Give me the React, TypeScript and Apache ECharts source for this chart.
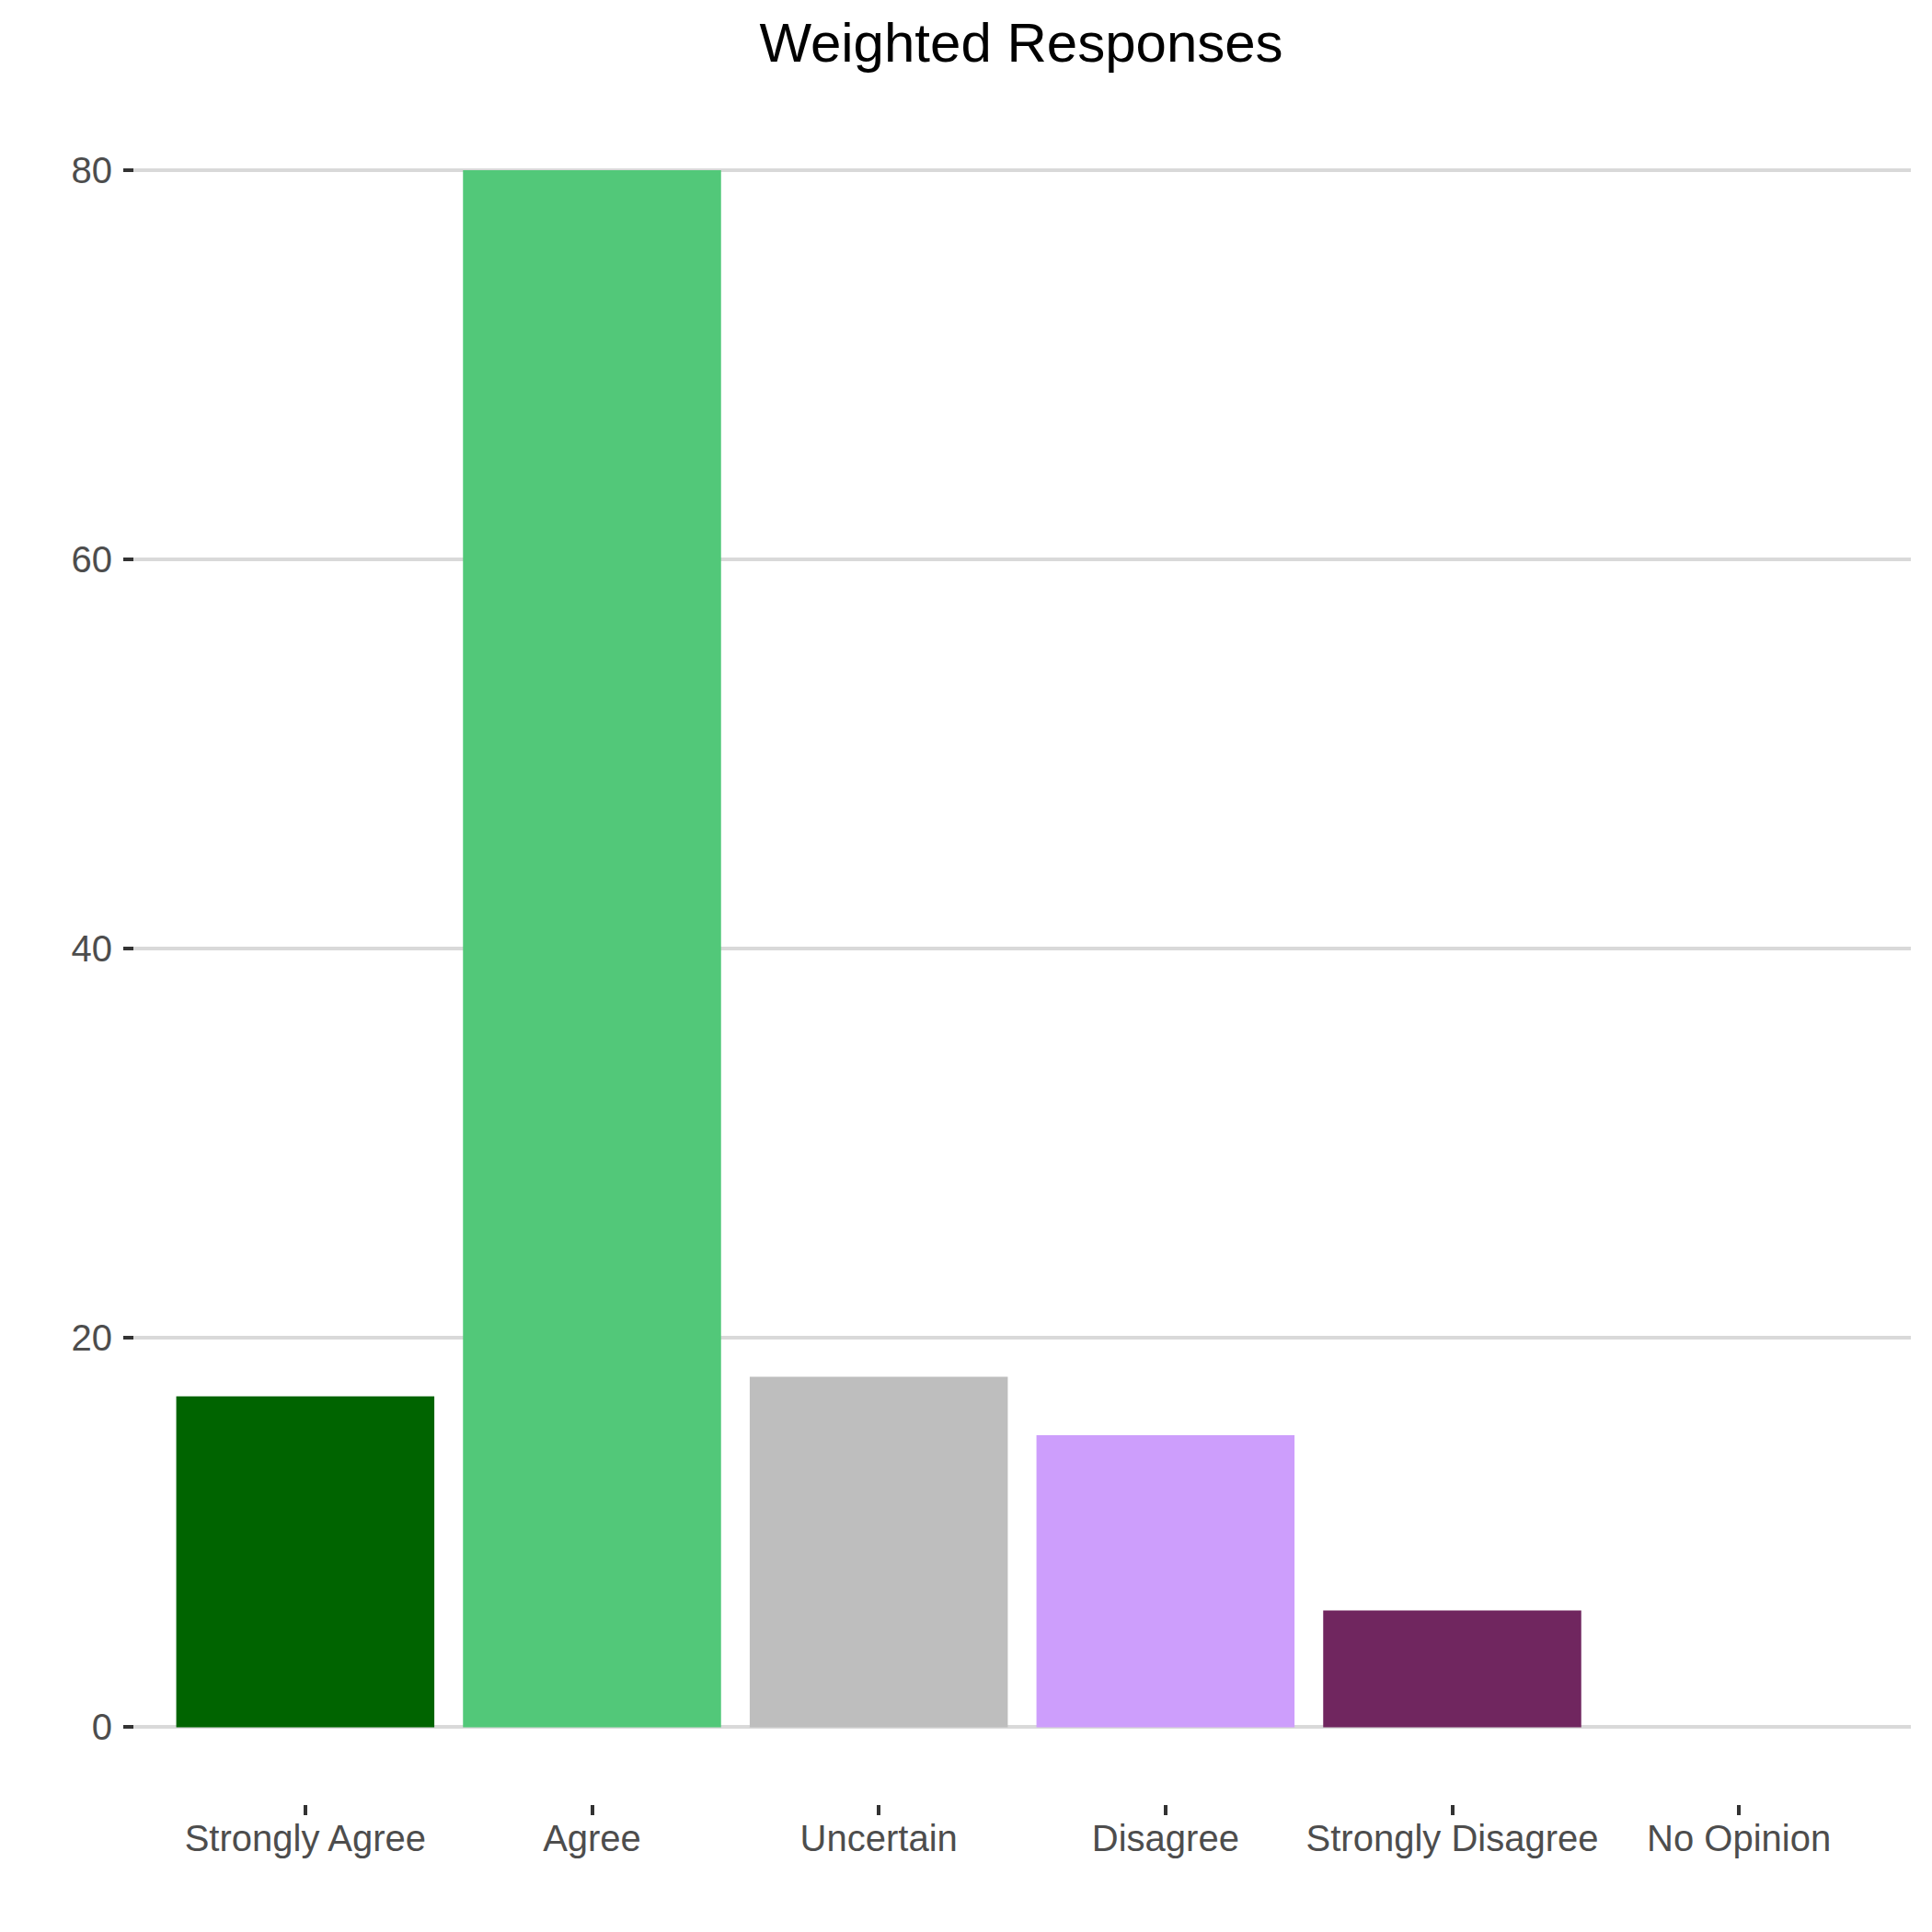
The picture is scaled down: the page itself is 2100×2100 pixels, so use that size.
import React, { useEffect, useRef } from "react";
import * as echarts from "echarts";

const categories = ["Strongly Agree", "Agree", "Uncertain", "Disagree", "Strongly Disagree", "No Opinion"];
const values = [17, 80, 18, 15, 6, 0];
const barColors = ["#006400", "#52C879", "#BEBEBE", "#CD9EFC", "#70265F", "#999999"];
const yMin = 0;
const yMax = 80;
const yInterval = 20;
const yPadMin = -4;
const yPadMax = 84;
const titleText = "Weighted Responses";

const FONT = '"Liberation Sans", Arial, sans-serif';

export default function App() {
  const ref = useRef<HTMLDivElement>(null);

  useEffect(() => {
    document.body.style.margin = "0";
    if (!ref.current) return;
    const chart = echarts.init(ref.current, null, { renderer: "svg" });
    const option = {
      animation: false,
      backgroundColor: "#FFFFFF",
      grid: [
        { left: 145, right: 23, top: 185, height: 1692 },
        { left: 176, right: 54, top: 100.4, height: 1861.6 },
      ],
      graphic: [
        {
          type: "text",
          x: 1110,
          y: 46,
          style: {
            text: titleText,
            fontSize: 60,
            fontFamily: FONT,
            fill: "#000000",
            align: "center",
            verticalAlign: "middle",
          },
        },
      ],
      xAxis: [
        { gridIndex: 0, type: "value", show: false, min: 0, max: 1 },
        {
          gridIndex: 1,
          type: "category",
          data: categories,
          axisLine: { show: false, onZero: false },
          axisTick: {
            show: true,
            alignWithLabel: true,
            length: 11,
            lineStyle: { color: "#333333", width: 4 },
          },
          axisLabel: {
            interval: 0,
            margin: 16,
            color: "#4D4D4D",
            fontSize: 40,
            fontFamily: FONT,
          },
          splitLine: { show: false },
        },
      ],
      yAxis: [
        {
          gridIndex: 0,
          type: "value",
          min: yMin,
          max: yMax,
          interval: yInterval,
          axisLine: { show: false },
          axisTick: { show: true, length: 11, lineStyle: { color: "#333333", width: 4 } },
          axisLabel: { margin: 23, color: "#4D4D4D", fontSize: 40, fontFamily: FONT },
          splitLine: { show: true, lineStyle: { color: "#D9D9D9", width: 4 } },
        },
        { gridIndex: 1, type: "value", min: yPadMin, max: yPadMax, show: false },
      ],
      series: [
        {
          type: "bar",
          xAxisIndex: 1,
          yAxisIndex: 1,
          barWidth: "90%",
          data: values.map((v, i) => ({ value: v, itemStyle: { color: barColors[i] } })),
        },
      ],
    };
    chart.setOption(option);
    return () => chart.dispose();
  }, []);

  return (
    <div
      ref={ref}
      style={{ position: "absolute", left: 0, top: 0, width: 2100, height: 2100 }}
    />
  );
}
